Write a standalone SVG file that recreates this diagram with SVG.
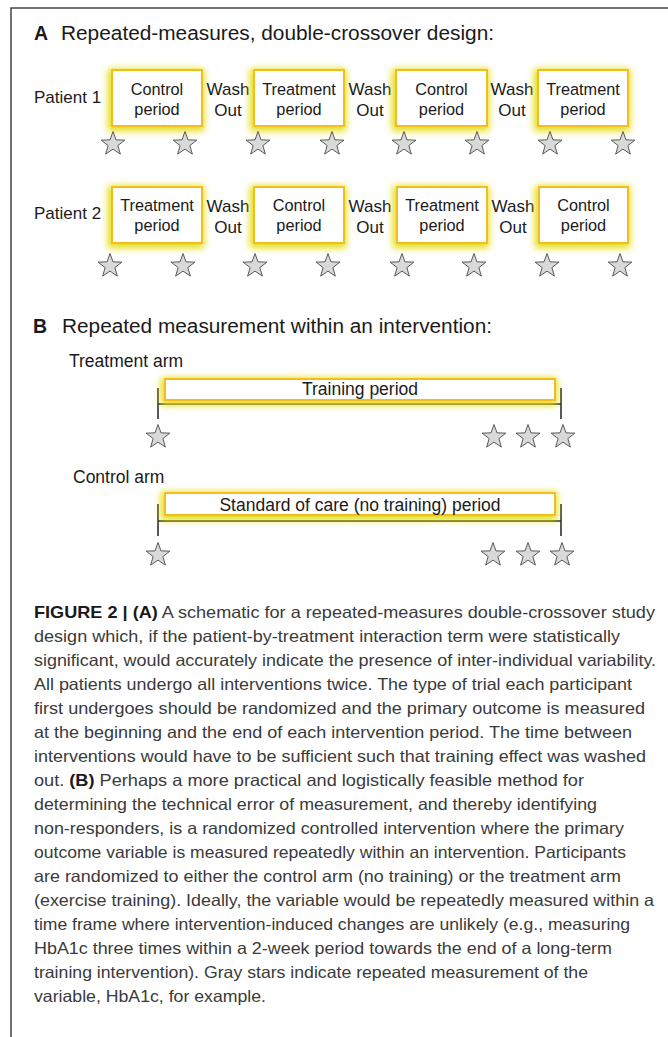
<svg xmlns="http://www.w3.org/2000/svg" width="668" height="1037" viewBox="0 0 668 1037">
<defs>
<style>
.t{font-family:"Liberation Sans",Arial,sans-serif;fill:#1a1a1a}
.hd{font-size:19.5px}
.pl{font-size:17px}
.bl{font-size:16.3px;text-anchor:middle}
.wo{font-size:17px;text-anchor:middle}
.arm{font-size:17.5px}
.bar{font-size:17.5px;text-anchor:middle}
.cap{font-family:"Liberation Sans",Arial,sans-serif;font-size:16.5px;fill:#3a3a3a}
.b{font-weight:bold;fill:#1a1a1a}
.box{fill:#fff;stroke:#f5bd1a;stroke-width:2;filter:url(#glow)}
.ln{stroke:#222;stroke-width:1.5;fill:none}
.frame{stroke:#444;stroke-width:1.5;fill:none}
</style>
<filter id="glow" x="-20%" y="-50%" width="140%" height="200%">
<feMorphology in="SourceAlpha" operator="dilate" radius="1.5" result="d"/>
<feGaussianBlur in="d" stdDeviation="3.5" result="bl"/>
<feOffset in="bl" dx="-1" dy="2" result="of"/>
<feFlood flood-color="#e4dc0c" flood-opacity="1"/>
<feComposite in2="of" operator="in" result="g"/>
<feMerge><feMergeNode in="g"/><feMergeNode in="SourceGraphic"/></feMerge>
</filter>
<path id="star" d="M0,-12.5 L3,-4.13 L11.89,-3.86 L4.85,1.58 L7.35,10.11 L0,5.1 L-7.35,10.11 L-4.85,1.58 L-11.89,-3.86 L-3,-4.13 Z" fill="#d9d9d9" stroke="#5a5a5a" stroke-width="1"/>
</defs>
<rect width="668" height="1037" fill="#fff"/>
<path class="frame" d="M11,1037 V8 H668"/>

<g id="titleA">
<text class="t hd" x="34" y="40" font-weight="bold">A</text>
<text class="t hd" x="61" y="40" textLength="433" lengthAdjust="spacingAndGlyphs">Repeated-measures, double-crossover design:</text>
</g>

<g id="patient1">
<text class="t pl" x="34" y="103">Patient 1</text>
<g id="p1-box1"><rect class="box" x="112" y="70" width="90" height="56"/><text class="t bl" x="157" y="95">Control</text><text class="t bl" x="157" y="115">period</text></g>
<g id="p1-wash1"><text class="t wo" x="228" y="95">Wash</text><text class="t wo" x="228" y="116">Out</text></g>
<g id="p1-box2"><rect class="box" x="254" y="70" width="90" height="56"/><text class="t bl" x="299" y="95">Treatment</text><text class="t bl" x="299" y="115">period</text></g>
<g id="p1-wash2"><text class="t wo" x="370" y="95">Wash</text><text class="t wo" x="370" y="116">Out</text></g>
<g id="p1-box3"><rect class="box" x="396" y="70" width="91" height="56"/><text class="t bl" x="441.5" y="95">Control</text><text class="t bl" x="441.5" y="115">period</text></g>
<g id="p1-wash3"><text class="t wo" x="512" y="95">Wash</text><text class="t wo" x="512" y="116">Out</text></g>
<g id="p1-box4"><rect class="box" x="538" y="70" width="90" height="56"/><text class="t bl" x="583" y="95">Treatment</text><text class="t bl" x="583" y="115">period</text></g>
<g id="p1-stars">
<use href="#star" x="113" y="144"/><use href="#star" x="185" y="144"/><use href="#star" x="258" y="144"/><use href="#star" x="332" y="144"/>
<use href="#star" x="404" y="144"/><use href="#star" x="477" y="144"/><use href="#star" x="550" y="144"/><use href="#star" x="623" y="144"/>
</g>
</g>

<g id="patient2">
<text class="t pl" x="34" y="219">Patient 2</text>
<g id="p2-box1"><rect class="box" x="112" y="187" width="90" height="56"/><text class="t bl" x="157" y="211">Treatment</text><text class="t bl" x="157" y="231">period</text></g>
<g id="p2-wash1"><text class="t wo" x="228" y="212">Wash</text><text class="t wo" x="228" y="233">Out</text></g>
<g id="p2-box2"><rect class="box" x="254" y="187" width="90" height="56"/><text class="t bl" x="299" y="211">Control</text><text class="t bl" x="299" y="231">period</text></g>
<g id="p2-wash2"><text class="t wo" x="370" y="212">Wash</text><text class="t wo" x="370" y="233">Out</text></g>
<g id="p2-box3"><rect class="box" x="397" y="187" width="90" height="56"/><text class="t bl" x="442" y="211">Treatment</text><text class="t bl" x="442" y="231">period</text></g>
<g id="p2-wash3"><text class="t wo" x="513" y="212">Wash</text><text class="t wo" x="513" y="233">Out</text></g>
<g id="p2-box4"><rect class="box" x="539" y="187" width="89" height="56"/><text class="t bl" x="583.5" y="211">Control</text><text class="t bl" x="583.5" y="231">period</text></g>
<g id="p2-stars">
<use href="#star" x="110" y="266"/><use href="#star" x="183" y="266"/><use href="#star" x="255" y="266"/><use href="#star" x="328" y="266"/>
<use href="#star" x="402" y="266"/><use href="#star" x="474" y="266"/><use href="#star" x="547" y="266"/><use href="#star" x="620" y="266"/>
</g>
</g>

<g id="titleB">
<text class="t hd" x="33" y="333" font-weight="bold">B</text>
<text class="t hd" x="62" y="333" textLength="430" lengthAdjust="spacingAndGlyphs">Repeated measurement within an intervention:</text>
</g>

<g id="connectors">
<path class="ln" d="M158,404 H561 M158,388 V419 M561,388 V419"/>
<path class="ln" d="M158,521 H561 M158,504 V536 M561,504 V536"/>
</g>

<g id="treatment-arm">
<text class="t arm" x="69" y="367">Treatment arm</text>
<rect class="box" x="165" y="379" width="390" height="21"/>
<text class="t bar" x="360" y="395">Training period</text>
<use href="#star" x="158" y="437"/><use href="#star" x="494" y="437"/><use href="#star" x="528" y="437"/><use href="#star" x="563" y="437"/>
</g>

<g id="control-arm">
<text class="t arm" x="73" y="483">Control arm</text>
<rect class="box" x="165" y="493" width="390" height="22"/>
<text class="t bar" x="360" y="511">Standard of care (no training) period</text>
<use href="#star" x="158" y="555"/><use href="#star" x="493" y="555"/><use href="#star" x="528" y="555"/><use href="#star" x="562" y="555"/>
</g>

<g id="caption">
<text class="cap" x="34" y="618" textLength="621" lengthAdjust="spacingAndGlyphs"><tspan class="b">FIGURE 2 | (A)</tspan> A schematic for a repeated-measures double-crossover study</text>
<text class="cap" x="34" y="642" textLength="586" lengthAdjust="spacingAndGlyphs">design which, if the patient-by-treatment interaction term were statistically</text>
<text class="cap" x="34" y="666" textLength="622" lengthAdjust="spacingAndGlyphs">significant, would accurately indicate the presence of inter-individual variability.</text>
<text class="cap" x="34" y="690" textLength="598" lengthAdjust="spacingAndGlyphs">All patients undergo all interventions twice. The type of trial each participant</text>
<text class="cap" x="34" y="714" textLength="611" lengthAdjust="spacingAndGlyphs">first undergoes should be randomized and the primary outcome is measured</text>
<text class="cap" x="34" y="738" textLength="598" lengthAdjust="spacingAndGlyphs">at the beginning and the end of each intervention period. The time between</text>
<text class="cap" x="34" y="762" textLength="612" lengthAdjust="spacingAndGlyphs">interventions would have to be sufficient such that training effect was washed</text>
<text class="cap" x="34" y="786" textLength="550" lengthAdjust="spacingAndGlyphs">out. <tspan class="b">(B)</tspan> Perhaps a more practical and logistically feasible method for</text>
<text class="cap" x="34" y="810" textLength="563" lengthAdjust="spacingAndGlyphs">determining the technical error of measurement, and thereby identifying</text>
<text class="cap" x="34" y="834" textLength="590" lengthAdjust="spacingAndGlyphs">non-responders, is a randomized controlled intervention where the primary</text>
<text class="cap" x="34" y="858" textLength="592" lengthAdjust="spacingAndGlyphs">outcome variable is measured repeatedly within an intervention. Participants</text>
<text class="cap" x="34" y="882" textLength="587" lengthAdjust="spacingAndGlyphs">are randomized to either the control arm (no training) or the treatment arm</text>
<text class="cap" x="34" y="906" textLength="620" lengthAdjust="spacingAndGlyphs">(exercise training). Ideally, the variable would be repeatedly measured within a</text>
<text class="cap" x="34" y="930" textLength="596" lengthAdjust="spacingAndGlyphs">time frame where intervention-induced changes are unlikely (e.g., measuring</text>
<text class="cap" x="34" y="954" textLength="578" lengthAdjust="spacingAndGlyphs">HbA1c three times within a 2-week period towards the end of a long-term</text>
<text class="cap" x="34" y="978" textLength="554" lengthAdjust="spacingAndGlyphs">training intervention). Gray stars indicate repeated measurement of the</text>
<text class="cap" x="34" y="1002" textLength="232" lengthAdjust="spacingAndGlyphs">variable, HbA1c, for example.</text>
</g>
</svg>
